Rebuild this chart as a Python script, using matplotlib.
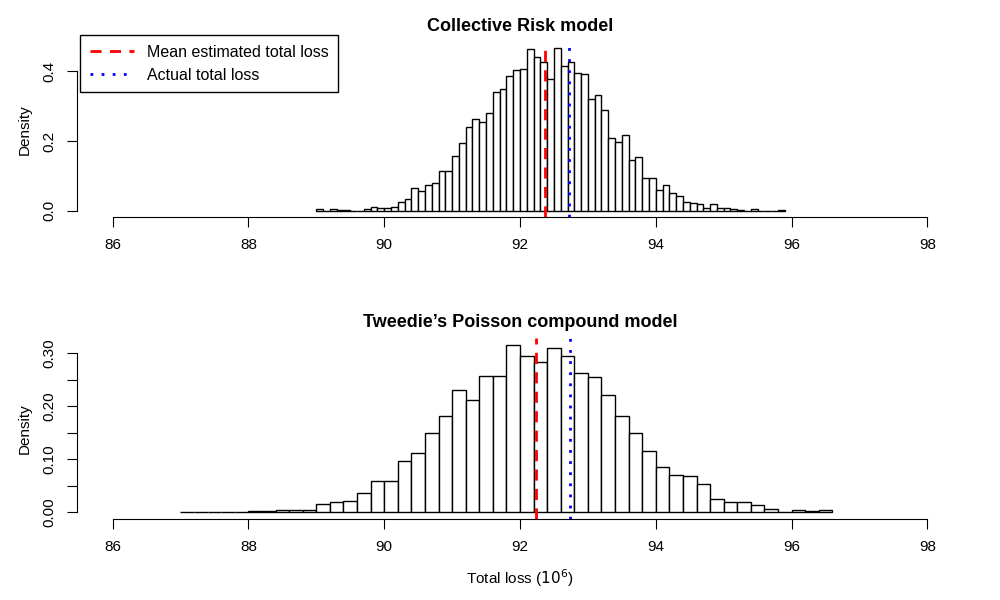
import numpy as np
import matplotlib
matplotlib.use("Agg")
import matplotlib.pyplot as plt

plt.rcParams["font.family"] = "Liberation Sans"

# Collective risk model histogram (bins of 0.1 starting at 89.0)
crm_start = 89.0
crm_width = 0.1
crm_density = [0.005, 0.0, 0.004, 0.002, 0.002, 0.0, 0.0, 0.005, 0.01, 0.007,
               0.008, 0.01, 0.024, 0.035, 0.066, 0.057, 0.073, 0.080, 0.113, 0.113,
               0.157, 0.193, 0.239, 0.262, 0.254, 0.279, 0.339, 0.349, 0.385, 0.403,
               0.406, 0.463, 0.442, 0.427, 0.377, 0.465, 0.414, 0.427, 0.396, 0.391,
               0.320, 0.331, 0.288, 0.209, 0.197, 0.217, 0.145, 0.154, 0.095, 0.095,
               0.060, 0.074, 0.051, 0.042, 0.024, 0.022, 0.019, 0.007, 0.019, 0.007,
               0.007, 0.004, 0.002, 0.0, 0.005, 0.0, 0.0, 0.0, 0.003]
crm_mean = 92.37
crm_actual = 92.72

# Tweedie Poisson compound model histogram (bins of 0.2 starting at 87.0)
tw_start = 87.0
tw_width = 0.2
tw_density = [0.001, 0.0006, 0.0006, 0.0006, 0.001, 0.0025, 0.0025, 0.005, 0.004, 0.005,
              0.015, 0.020, 0.0215, 0.037, 0.058, 0.058, 0.096, 0.111, 0.149, 0.182,
              0.231, 0.211, 0.256, 0.257, 0.316, 0.294, 0.284, 0.309, 0.294, 0.263,
              0.254, 0.220, 0.182, 0.149, 0.115, 0.085, 0.070, 0.068, 0.054, 0.025,
              0.020, 0.020, 0.013, 0.007, 0.001, 0.004, 0.002, 0.004]
tw_mean = 92.24
tw_actual = 92.74


def r_hist(ax, start, width, dens, mean, actual, title, yticks, ylabels):
    edges = start + width * np.arange(len(dens))
    ax.bar(edges, dens, width=width, align="edge", color="white",
           edgecolor="black", linewidth=1)
    l1 = ax.axvline(mean, color="red", linestyle=(0, (4, 3)), linewidth=2)
    l2 = ax.axvline(actual, color="blue", linestyle=(0, (1, 3)), linewidth=2)
    top = max(dens)
    ax.set_xlim(86 - 0.48, 98 + 0.48)
    ax.set_ylim(-0.04 * top, top * 1.04)
    for s in ["top", "right"]:
        ax.spines[s].set_visible(False)
    ax.spines["bottom"].set_bounds(86, 98)
    ax.spines["left"].set_bounds(yticks[0], yticks[-1])
    ax.spines["left"].set_position(("outward", 2))
    ax.set_xticks(range(86, 99, 2))
    ax.set_yticks(yticks)
    ax.set_yticklabels(ylabels, rotation=90, va="center")
    ax.tick_params(labelsize=11, length=7, pad=8)
    ax.set_title(title, fontsize=13, fontweight="bold", pad=8)
    ax.set_ylabel("Density", fontsize=11, labelpad=8)
    return l1, l2


fig = plt.figure(figsize=(10, 6), dpi=100)
ax1 = fig.add_axes([0.08, 0.638, 0.88, 0.292])
ax2 = fig.add_axes([0.08, 0.135, 0.88, 0.302])

h = r_hist(ax1, crm_start, crm_width, crm_density, crm_mean, crm_actual,
           "Collective Risk model", [0.0, 0.2, 0.4], ["0.0", "0.2", "0.4"])
r_hist(ax2, tw_start, tw_width, tw_density, tw_mean, tw_actual,
       "Tweedie\u2019s Poisson compound model",
       [0.0, 0.05, 0.10, 0.15, 0.20, 0.25, 0.30],
       ["0.00", "", "0.10", "", "0.20", "", "0.30"])
ax2.set_xlabel("Total loss ($10^6$)", fontsize=11, labelpad=10)

ax1.legend(list(h), ["Mean estimated total loss", "Actual total loss"],
           loc="upper left", bbox_to_anchor=(0, 1.04),
           fancybox=False, edgecolor="black", framealpha=1, fontsize=11.5,
           borderaxespad=0, handlelength=2.8, borderpad=0.6)

fig.savefig("out.png", dpi=100)
